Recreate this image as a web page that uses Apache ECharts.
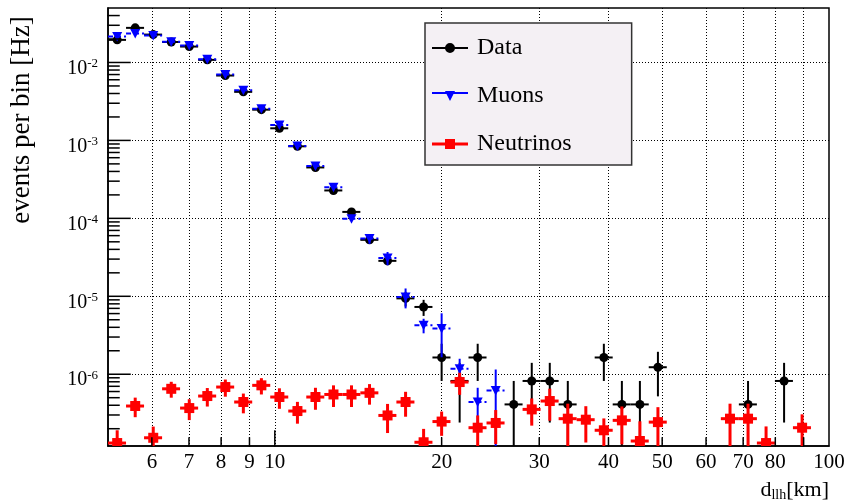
<!DOCTYPE html>
<html>
<head>
<meta charset="utf-8">
<script src="https://cdn.jsdelivr.net/npm/echarts@6/dist/echarts.min.js"></script>
<style>
  html, body { margin: 0; padding: 0; background: #ffffff; }
  #chart { width: 846px; height: 503px; }
</style>
</head>
<body>
<div id="chart"></div>
<script>
// Log-spaced bin edges of d_llh [km] (40 bins from 5 to 100 km)
const binEdges = [5.000, 5.389, 5.808, 6.260, 6.746, 7.271, 7.837, 8.446, 9.103, 9.811,
  10.574, 11.396, 12.282, 13.237, 14.267, 15.376, 16.572, 17.861, 19.250, 20.747,
  22.361, 24.100, 25.974, 27.994, 30.170, 32.517, 35.045, 37.771, 40.708, 43.874,
  47.286, 50.963, 54.926, 59.197, 63.801, 68.762, 74.109, 79.872, 86.083, 92.777, 100.000];

// Measured rate per bin [Hz] and its uncertainty
const dataRate = [0.0195, 0.0278, 0.0228, 0.0183, 0.0160, 0.0108, 0.0068, 0.0042, 0.00248, 0.00143,
  0.00084, 0.00045, 0.000228, 0.000121, 5.3e-5, 2.85e-5, 9.4e-6, 7.3e-6, 1.64e-6, 8.2e-7,
  1.64e-6, null, 4.1e-7, 8.2e-7, 8.2e-7, 4.1e-7, null, 1.64e-6, 4.1e-7, 4.1e-7,
  1.23e-6, null, null, null, null, 4.1e-7, null, 8.2e-7, null, null];
const dataErr = [8.9e-5, 1.07e-4, 9.7e-5, 8.7e-5, 8.1e-5, 6.7e-5, 5.3e-5, 4.2e-5, 3.2e-5, 2.4e-5,
  1.9e-5, 1.4e-5, 9.7e-6, 7.0e-6, 4.7e-6, 3.4e-6, 2.0e-6, 1.7e-6, 8.2e-7, 5.8e-7,
  8.2e-7, null, 4.1e-7, 5.8e-7, 5.8e-7, 4.1e-7, null, 8.2e-7, 4.1e-7, 4.1e-7,
  7.1e-7, null, null, null, null, 4.1e-7, null, 5.8e-7, null, null];

// Simulated atmospheric muons [Hz]
const muonRate = [0.0215, 0.0236, 0.0222, 0.0185, 0.0165, 0.0110, 0.0070, 0.0044, 0.00255, 0.00158,
  0.00085, 0.00047, 0.000250, 9.9e-5, 5.5e-5, 3.1e-5, 9.8e-6, 4.25e-6, 3.85e-6, 1.18e-6,
  4.4e-7, 6.2e-7, null, null, null, null, null, null, null, null,
  null, null, null, null, null, null, null, null, null, null];
const muonErr = [3e-4, 3e-4, 3e-4, 2.5e-4, 2.3e-4, 1.6e-4, 1.1e-4, 8e-5, 5e-5, 3.5e-5,
  2e-5, 1.3e-5, 8e-6, 5e-6, 8e-6, 6e-6, 2.8e-6, 9e-7, 2.2e-6, 4e-7,
  2.3e-7, 5.3e-7, null, null, null, null, null, null, null, null,
  null, null, null, null, null, null, null, null, null, null];

// Simulated neutrinos [Hz]
const nuRate = [1.31e-7, 3.91e-7, 1.53e-7, 6.5e-7, 3.68e-7, 5.25e-7, 6.85e-7, 4.4e-7, 7.2e-7, 5.1e-7,
  3.37e-7, 5.1e-7, 5.5e-7, 5.5e-7, 5.77e-7, 2.96e-7, 4.4e-7, 1.34e-7, 2.47e-7, 7.94e-7,
  2.06e-7, 2.37e-7, null, 3.54e-7, 4.53e-7, 2.69e-7, 2.61e-7, 1.91e-7, 2.56e-7, 1.39e-7,
  2.43e-7, null, null, null, 2.69e-7, 2.69e-7, 1.31e-7, null, 2.06e-7, null];
const nuErr = [0.6e-7, 1.1e-7, 0.6e-7, 1.5e-7, 1.1e-7, 1.4e-7, 1.7e-7, 1.25e-7, 1.7e-7, 1.5e-7,
  1.05e-7, 1.6e-7, 1.7e-7, 1.7e-7, 1.7e-7, 1.2e-7, 1.55e-7, 0.65e-7, 0.85e-7, 2.5e-7,
  0.9e-7, 1.1e-7, null, 1.35e-7, 2.0e-7, 1.5e-7, 1.28e-7, 0.8e-7, 1.3e-7, 1.1e-7,
  1.35e-7, null, null, null, 1.5e-7, 1.5e-7, 0.83e-7, null, 1.0e-7, null];

// Axis ticks and labels
const xTickValues = [6, 7, 8, 9, 20, 30, 40, 50, 60, 70, 80, 90];
const xMajorTicks = [10];
const xLabelValues = [6, 7, 8, 9, 10, 20, 30, 40, 50, 60, 70, 80, 100];
const xGridValues = [6, 7, 8, 9, 10, 20, 30, 40, 50, 60, 70, 80, 90];
const yDecades = [1e-6, 1e-5, 1e-4, 1e-3, 1e-2];
const seriesNames = ['Data', 'Muons', 'Neutrinos'];

const X_MIN = 5, X_MAX = 100, Y_MIN = 1.2e-7, Y_MAX = 0.05;
const SERIF = 'Liberation Serif';

// minor y ticks at 2..9 x 10^n inside the axis range
const yMinorTicks = [];
for (let n = -7; n <= -2; n++) {
  for (let k = 2; k <= 9; k++) {
    const v = Number((k * Math.pow(10, n)).toPrecision(3));
    if (v > Y_MIN && v < Y_MAX) yMinorTicks.push(v);
  }
}

function toPoints(rate, err) {
  const pts = [];
  rate.forEach(function (v, i) {
    if (v == null) return;
    pts.push([binEdges[i], binEdges[i + 1], v, err[i]]);
  });
  return pts;
}

// Error-bar + marker glyph for one histogram bin
function errorBarRenderer(opt) {
  return function (params, api) {
    const lo = api.value(0), hi = api.value(1), v = api.value(2), e = api.value(3);
    const xc = (lo + hi) / 2;
    const c = api.coord([xc, v]);
    const l = api.coord([lo, v]);
    const r = api.coord([hi, v]);
    const top = api.coord([xc, v + e]);
    const lowVal = (v - e) > Y_MIN * 0.5 ? (v - e) : Y_MIN * 0.5;
    const bot = api.coord([xc, lowVal]);
    let marker;
    if (opt.marker === 'circle') {
      marker = { type: 'circle', shape: { cx: c[0], cy: c[1], r: 4.5 }, style: { fill: opt.color } };
    } else if (opt.marker === 'triangle') {
      marker = { type: 'polygon', shape: { points: [[c[0] - 5, c[1] - 4.5], [c[0] + 5, c[1] - 4.5], [c[0], c[1] + 5]] }, style: { fill: opt.color } };
    } else {
      marker = { type: 'rect', shape: { x: c[0] - 5, y: c[1] - 5, width: 10, height: 10 }, style: { fill: opt.color } };
    }
    const cs = params.coordSys;
    return {
      type: 'group',
      clipPath: { type: 'rect', shape: { x: cs.x, y: cs.y, width: cs.width, height: cs.height } },
      children: [
        { type: 'line', shape: { x1: l[0], y1: c[1], x2: r[0], y2: c[1] },
          style: { stroke: opt.color, lineWidth: opt.width, lineDash: opt.hDash || null } },
        { type: 'line', shape: { x1: c[0], y1: top[1], x2: c[0], y2: bot[1] },
          style: { stroke: opt.color, lineWidth: opt.width } },
        marker
      ]
    };
  };
}

// Inward axis tick marks, positioned with the axis scales
function tickRenderer(params, api) {
  const axis = api.value(0);      // 0 = left axis, 1 = bottom axis
  const v = api.value(1);
  const len = api.value(2);
  let x1, y1, x2, y2;
  if (axis === 0) {
    const p = api.coord([X_MIN, v]);
    x1 = p[0]; y1 = p[1]; x2 = p[0] + len; y2 = p[1];
  } else {
    const p = api.coord([v, Y_MIN]);
    x1 = p[0]; y1 = p[1]; x2 = p[0]; y2 = p[1] - len;
  }
  return {
    type: 'rect',
    shape: { x: Math.min(x1, x2) - 0.75, y: Math.min(y1, y2) - 0.75,
      width: Math.abs(x2 - x1) + 1.5, height: Math.abs(y2 - y1) + 1.5 },
    style: { fill: '#000000' }
  };
}

const tickData = [];
yDecades.forEach(function (v) { tickData.push([0, v, 22]); });
yMinorTicks.forEach(function (v) { tickData.push([0, v, 11]); });
xTickValues.forEach(function (v) { tickData.push([1, v, 8]); });
xMajorTicks.forEach(function (v) { tickData.push([1, v, 15]); });

const chart = echarts.init(document.getElementById('chart'), null, { renderer: 'canvas', devicePixelRatio: 1 });

const dottedGrid = { show: true, lineStyle: { color: '#000', width: 1, type: [1, 2] } };

const option = {
  backgroundColor: '#ffffff',
  animation: false,
  grid: {
    left: 108, top: 8, width: 721, height: 438,
    show: true, borderColor: '#000', borderWidth: 1.5,
    containLabel: false, outerBoundsMode: 'none'
  },
  xAxis: {
    type: 'log', logBase: 10, min: X_MIN, max: X_MAX, position: 'bottom',
    axisLine: { show: true, onZero: false, lineStyle: { color: '#000', width: 1.5 } },
    axisTick: { show: false, customValues: xGridValues },
    axisLabel: { show: true, customValues: xLabelValues, margin: 6, color: '#000', fontFamily: SERIF, fontSize: 21 },
    splitLine: dottedGrid,
    minorTick: { show: false }
  },
  yAxis: {
    type: 'log', logBase: 10, min: Y_MIN, max: Y_MAX, position: 'left',
    axisLine: { show: true, onZero: false, lineStyle: { color: '#000', width: 1.5 } },
    axisTick: { show: false, customValues: yDecades },
    axisLabel: {
      show: true, customValues: yDecades, margin: 10, padding: [12, 0, 0, 0],
      formatter: function (v) {
        const p = Math.round(Math.log10(v));
        return '{b|10}{s|' + p + '}';
      },
      rich: {
        b: { fontFamily: SERIF, fontSize: 20, lineHeight: 22, color: '#000' },
        s: { fontFamily: SERIF, fontSize: 13, lineHeight: 13, verticalAlign: 'top', color: '#000' }
      }
    },
    splitLine: dottedGrid
  },
  legend: {
    orient: 'vertical', left: 425, top: 23,
    padding: [12, 60, 8, 7], itemGap: 22, itemWidth: 36, itemHeight: 10,
    backgroundColor: '#f4f0f4', borderColor: '#333', borderWidth: 1.5, borderRadius: 0,
    selectedMode: false,
    itemStyle: { borderWidth: 0 },
    textStyle: { fontFamily: SERIF, fontSize: 24, color: '#000', lineHeight: 26, padding: [0, 0, 0, 4] },
    data: [
      { name: seriesNames[0], icon: 'path://M0,4H36V6H0Z M13,5A5,5 0 1 1 23,5A5,5 0 1 1 13,5Z', itemStyle: { color: '#000000' } },
      { name: seriesNames[1], icon: 'path://M0,1H36V3H0Z M13,0H23L18,10Z', itemStyle: { color: '#0000ff' } },
      { name: seriesNames[2], icon: 'path://M0,3.5H36V6.5H0Z M13,0H23V10H13Z', itemStyle: { color: '#ff0000' } }
    ]
  },
  graphic: [
    {
      type: 'text', x: 22, y: 120, rotation: Math.PI / 2,
      style: { text: 'events per bin [Hz]', fill: '#000', font: '27px "Liberation Serif"', textAlign: 'center', textVerticalAlign: 'middle' }
    },
    {
      type: 'text', x: 829, y: 490,
      style: {
        text: 'd{s|llh}[km]', fill: '#000', font: '22px "Liberation Serif"',
        textAlign: 'right', textVerticalAlign: 'middle',
        rich: { s: { fontFamily: SERIF, fontSize: 14, padding: [10, 0, 0, 0], fill: '#000' } }
      }
    }
  ],
  series: [
    {
      name: seriesNames[0], type: 'custom',
      itemStyle: { color: '#000000' },
      encode: { x: [0, 1], y: 2 },
      renderItem: errorBarRenderer({ color: '#000000', width: 2, marker: 'circle' }),
      data: toPoints(dataRate, dataErr), z: 2
    },
    {
      name: seriesNames[1], type: 'custom',
      itemStyle: { color: '#0000ff' },
      encode: { x: [0, 1], y: 2 },
      renderItem: errorBarRenderer({ color: '#0000ff', width: 2, marker: 'triangle', hDash: [5, 3] }),
      data: toPoints(muonRate, muonErr), z: 3
    },
    {
      name: seriesNames[2], type: 'custom',
      itemStyle: { color: '#ff0000' },
      encode: { x: [0, 1], y: 2 },
      renderItem: errorBarRenderer({ color: '#ff0000', width: 3, marker: 'square' }),
      data: toPoints(nuRate, nuErr), z: 4
    },
    {
      name: 'ticks', type: 'custom', silent: true,
      dimensions: ['axis', 'value', 'length'],
      encode: { x: -1, y: -1 },
      renderItem: tickRenderer,
      data: tickData, z: 10
    }
  ]
};

chart.setOption(option);
</script>
</body>
</html>
